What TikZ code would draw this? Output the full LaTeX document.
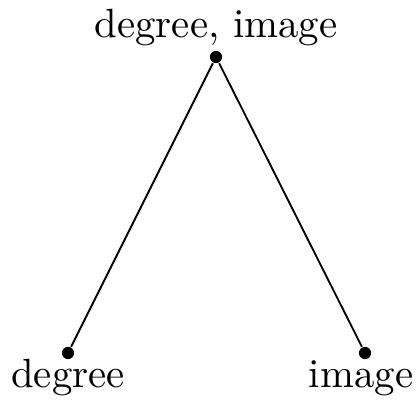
\documentclass[tikz,border=0pt]{standalone}
\begin{document}
\begin{tikzpicture}[x=0.245pt,y=-0.245pt,
  vdot/.style={circle,fill=black,inner sep=0pt,minimum size=3pt},
  lbl/.style={anchor=base,inner sep=0pt},
  edge/.style={line width=0.45pt}]
\useasboundingbox (0,0) rectangle (420,402);
\node[vdot] (top) at (216,57) {};
\node[vdot] (l) at (68,353) {};
\node[vdot] (r) at (365,353) {};
\node[lbl] (tl) at (216,37) {degree, image};
\node[lbl] (ll) at (68,387) {degree};
\node[lbl] (rl) at (361,387) {image};
\draw[edge] (top) -- (l);
\draw[edge] (top) -- (r);
\end{tikzpicture}
\end{document}
